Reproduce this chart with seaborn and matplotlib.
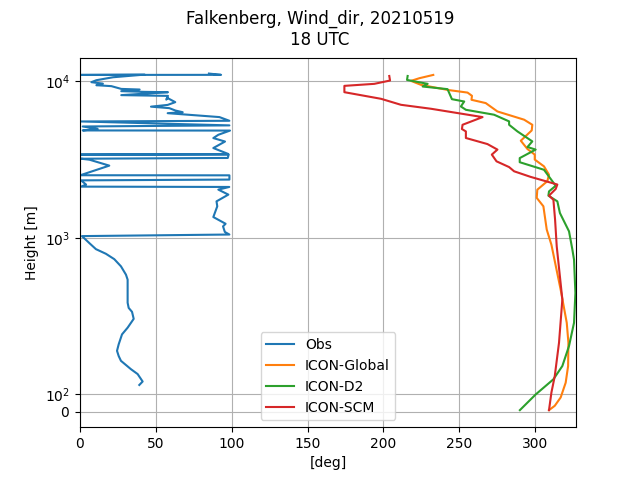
import matplotlib

matplotlib.use("Agg")
import matplotlib.pyplot as plt
import seaborn as sns

station = "Falkenberg"
variable = "Wind_dir"
date = "20210519"
hour = "18 UTC"

obs_dir = [39.1, 41.3, 38.0, 33.6, 27.0, 25.5, 24.4, 25.5, 27.7, 31.4, 35.4, 34.3, 32.1, 31.4,
           31.4, 30.3, 27.0, 22.6, 17.1, 10.5, 6.2, 1.3, 98.5, 95.5, 94.3, 96.0, 87.9, 90.5, 90.0,
           97.8, 91.2, 98.4, 0.7, 4.0, 0.7, 98.5, 98.5, 0.2, 19.3, 6.2, 0.7, 97.4, 98.0, 0.7,
           97.8, 87.9, 95.6, 87.9, 91.2, 98.9, 1.8, 11.6, 1.8, 98.5, 0.7, 98.5, 91.9,
           57.8, 67.7, 62.9, 58.9, 46.8, 57.8, 62.8, 57.8, 56.9,
           58.0, 27.2, 58.0, 42.6, 27.2, 39.3, 27.2, 20.7, 10.8, 15.1, 7.5, 10.8, 21.8,
           42.6, 0.7, 93.0, 85.0]
obs_height = [115, 121, 135, 145, 164, 176, 190, 209, 242, 267, 304, 337, 357, 385,
              541, 582, 658, 731, 791, 847, 925, 1026, 1050, 1090, 1184, 1230, 1358, 1590, 1710,
              1888, 2032, 2113, 2123, 2188, 2328, 2355, 2507, 2510, 2891, 3155, 3200, 3236, 3396, 3400,
              3430, 3744, 4120, 4335, 4550, 4840, 4850, 4966, 5140, 5224, 5534, 5590, 5902,
              6250, 6340, 6500, 6730, 6880, 7060, 7350, 7800, 7630,
              8060, 8150, 8510, 8550, 8640, 8850, 8930, 9300, 9430, 9650, 9860, 10150, 10600,
              11020, 10970, 10980, 11190]

global_dir = [232.9, 223.7, 218.2, 224.8, 242.3, 255.5, 258.4, 258.1, 267.5, 275.2, 292.8, 298.2,
              297.8, 290.6, 295.0, 299.8, 299.8, 305.9, 309.2, 308.1, 301.5, 301.1, 305.5, 307.7,
              310.8, 316.9, 320.9, 322.0, 321.8, 320.2, 316.9, 313.0, 309.2]
global_height = [10970, 10450, 10050, 9480, 8800, 8460, 8070, 7610, 7250, 6410, 5680, 5270,
                 4850, 4170, 3690, 3400, 3160, 2860, 2530, 2300, 2030, 1800, 1590, 1130,
                 903, 466, 287, 214, 152, 119, 83, 35, 10]

d2_dir = [216.0, 215.6, 229.2, 225.9, 242.3, 245.2, 253.3, 251.1, 254.4, 273.0, 282.9, 282.9, 288.4,
          298.2, 295.0, 300.4, 289.9, 289.9, 305.9, 311.4, 313.6, 309.2, 308.8, 314.7, 316.4,
          322.4, 324.6, 325.7, 326.6, 325.7, 322.4, 318.0, 312.1, 300.4, 290.0]
d2_height = [10800, 10190, 9620, 9250, 8900, 7680, 7420, 6900, 6570, 6110, 5540, 5270, 4780,
             4130, 3800, 3660, 3230, 3040, 2720, 2300, 2150, 1980, 1860, 1710, 1440,
             1100, 843, 725, 445, 287, 204, 152, 125, 100, 10]

scm_dir = [203.9, 204.4, 194.0, 174.3, 174.3, 198.5, 211.6, 231.4, 265.4, 252.2, 251.8, 254.4, 254.4,
           268.6, 275.2, 271.5, 274.6, 282.9, 286.2, 297.1, 314.7, 313.6, 309.2, 312.1, 313.2,
           314.3, 318.0, 315.8, 313.0, 310.8, 309.2]
scm_height = [10800, 10100, 9620, 9340, 8510, 7720, 7070, 6670, 5900, 5270, 4950, 4780, 4340,
              3970, 3660, 3400, 3080, 2830, 2660, 2450, 2190, 2050, 1860, 1750, 1310,
              881, 404, 214, 131, 103, 10]


def main():
    fig, ax = plt.subplots(figsize=(6.4, 4.8), dpi=100)

    series = [
        ("Obs", obs_dir, obs_height),
        ("ICON-Global", global_dir, global_height),
        ("ICON-D2", d2_dir, d2_height),
        ("ICON-SCM", scm_dir, scm_height),
    ]
    colors = sns.color_palette("tab10", 4)
    for (name, xs, ys), color in zip(series, colors):
        sns.lineplot(x=xs, y=ys, sort=False, estimator=None, color=color, label=name, ax=ax)

    ax.set_yscale("symlog", linthresh=100, linscale=0.1)
    ax.set_ylim(-88, 14150)
    ax.set_xlim(0, 327)
    ax.set_xlabel("[deg]")
    ax.set_ylabel("Height [m]")
    fig.suptitle(f"{station}, {variable}, {date}\n{hour}")
    ax.grid(True)
    ax.legend(loc="lower center")

    plt.savefig("out.png", dpi=100)


if __name__ == "__main__":
    main()
